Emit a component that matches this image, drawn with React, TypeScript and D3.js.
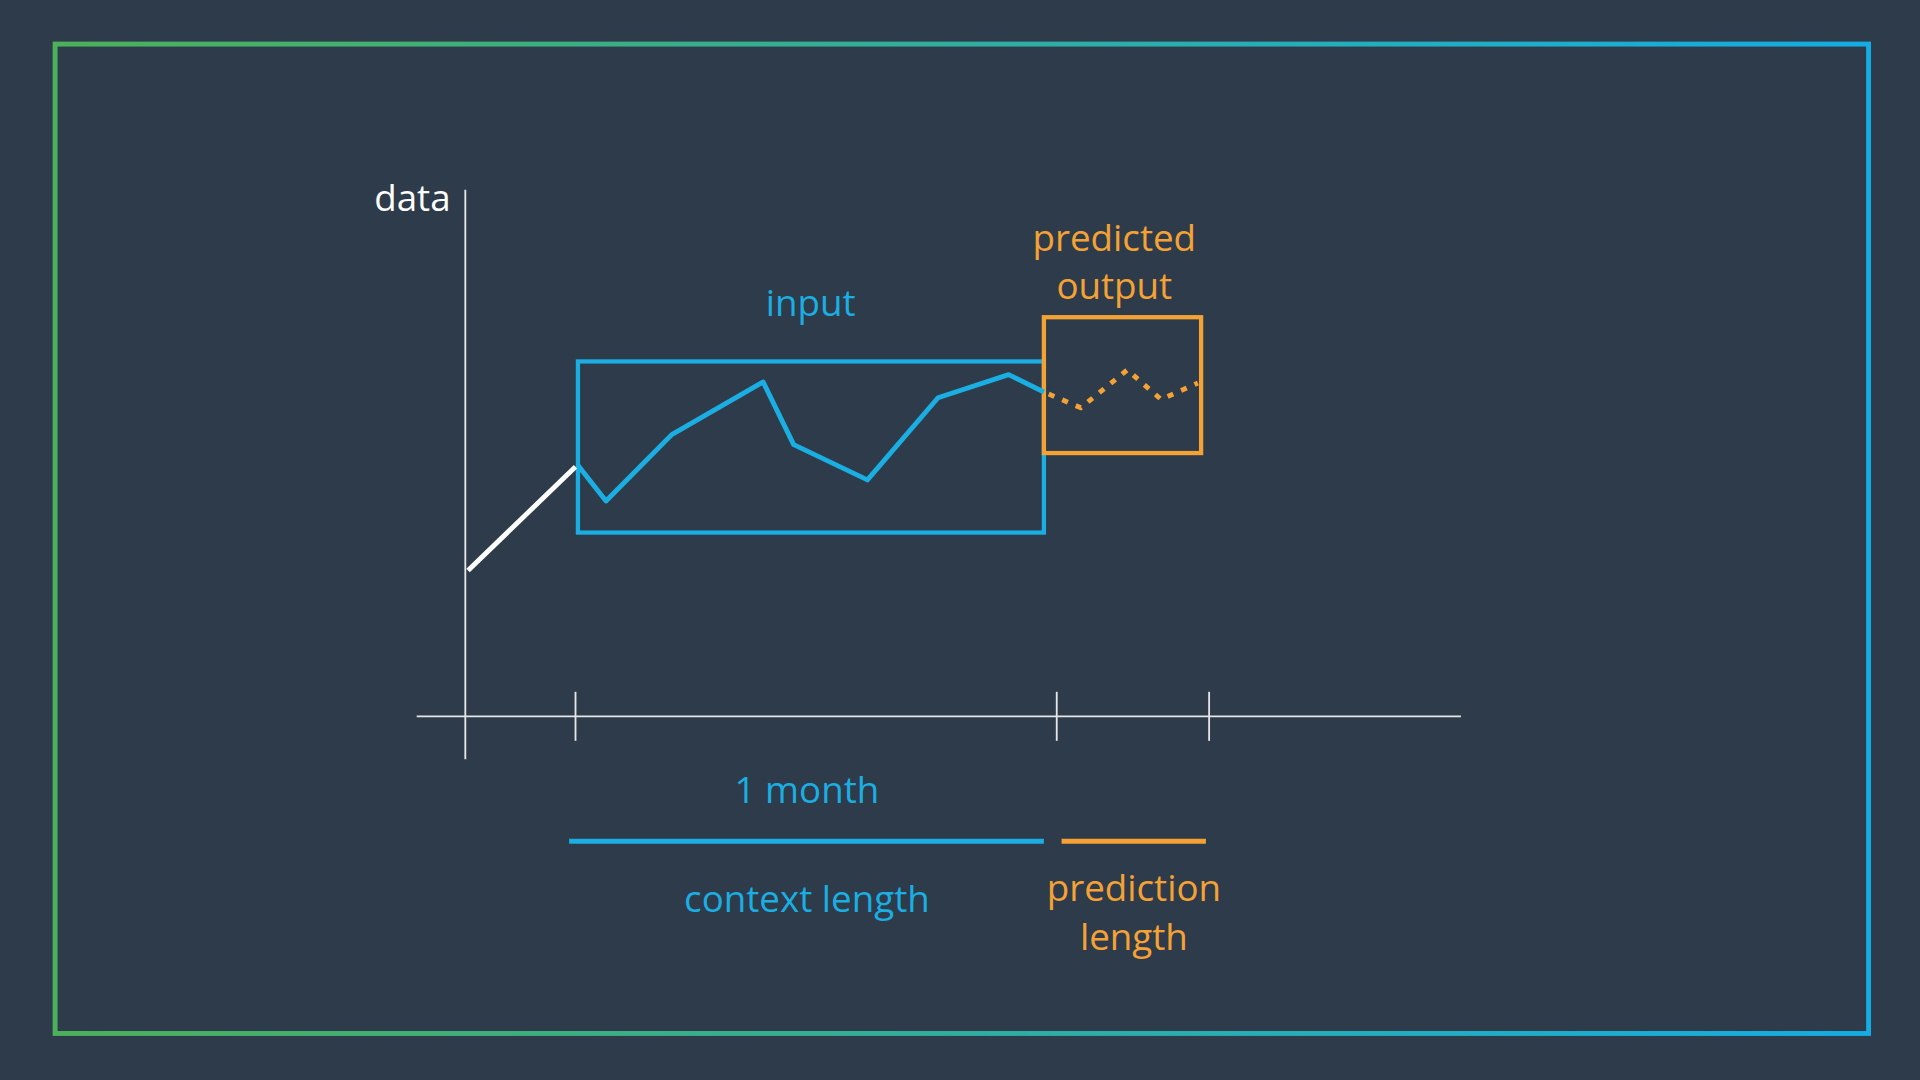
import React from "react";
import * as d3 from "d3";

// time in days (0 = start of context window), value in arbitrary units
const historyPts: [number, number][] = [[-6.7, 27.7], [0, 47.4]];
const inputPts: [number, number][] = [
  [0.15, 47.7], [1.9, 40.9], [6.0, 53.5], [11.7, 63.5], [13.6, 51.6],
  [18.2, 44.9], [22.6, 60.5], [27.0, 64.9], [29.2, 61.6],
];
const predictedPts: [number, number][] = [
  [29.5, 61.2], [31.5, 58.6], [34.4, 65.8], [36.5, 60.2], [38.8, 63.3],
];
const xTicks = [0, 30, 39.5];
const inputBox = { t0: 0.15, t1: 29.2, v0: 34.9, v1: 67.4 };
const outputBox = { t0: 29.2, t1: 39.0, v0: 50, v1: 75.8 };
const contextSpan: [number, number] = [-0.4, 29.2];
const predictionSpan: [number, number] = [30.3, 39.3];

const BLUE = "#1aaee2";
const ORANGE = "#f5a235";
const BG = "#2e3b4a";
const FONT = "'Open Sans', 'Noto Sans', sans-serif";

const App: React.FC = () => {
  const x = d3.scaleLinear().domain([0, 30]).range([470, 863]);
  const y = d3.scaleLinear().domain([0, 100]).range([585, 155]);
  const line = d3.line<[number, number]>().x((d) => x(d[0])).y((d) => y(d[1]));
  const axisY = y(0);
  const yAxisX = x(-6.87);

  return (
    <svg
      width={1920}
      height={1080}
      viewBox="0 0 1568 882"
      style={{ position: "absolute", left: 0, top: 0 }}
    >
      <defs>
        <linearGradient id="border" x1="0" x2="1" y1="0" y2="0">
          <stop offset="0%" stopColor="#4cb15a" />
          <stop offset="100%" stopColor="#14ace3" />
        </linearGradient>
      </defs>
      <rect width={1568} height={882} fill={BG} />
      <rect x={45} y={36} width={1481} height={808} fill="none" stroke="url(#border)" strokeWidth={4} />

      {/* axes */}
      <line x1={yAxisX} x2={yAxisX} y1={155} y2={620} stroke="#e6e6e6" strokeWidth={1.5} />
      <line x1={x(-9.9)} x2={x(55.2)} y1={axisY} y2={axisY} stroke="#e6e6e6" strokeWidth={1.5} />
      {xTicks.map((t) => (
        <line key={t} x1={x(t)} x2={x(t)} y1={axisY - 20} y2={axisY + 20} stroke="#e6e6e6" strokeWidth={1.5} />
      ))}
      <text x={368} y={172} textAnchor="end" fill="#fff" fontSize={30} fontFamily={FONT}>data</text>

      {/* boxes */}
      <rect x={x(inputBox.t0)} y={y(inputBox.v1)} width={x(inputBox.t1) - x(inputBox.t0)}
        height={y(inputBox.v0) - y(inputBox.v1)} fill="none" stroke={BLUE} strokeWidth={3.5} />
      <rect x={x(outputBox.t0)} y={y(outputBox.v1)} width={x(outputBox.t1) - x(outputBox.t0)}
        height={y(outputBox.v0) - y(outputBox.v1)} fill="none" stroke={ORANGE} strokeWidth={3.5} />

      {/* series */}
      <path d={line(historyPts) ?? ""} fill="none" stroke="#fff" strokeWidth={4} />
      <path d={line(inputPts) ?? ""} fill="none" stroke={BLUE} strokeWidth={4} strokeLinejoin="round" />
      <path d={line(predictedPts) ?? ""} fill="none" stroke={ORANGE} strokeWidth={4} strokeDasharray="5 7" />

      {/* labels */}
      <text x={662} y={258} textAnchor="middle" fill={BLUE} fontSize={30} fontFamily={FONT}>input</text>
      <text x={910} y={205} textAnchor="middle" fill={ORANGE} fontSize={30} fontFamily={FONT}>predicted</text>
      <text x={910} y={244} textAnchor="middle" fill={ORANGE} fontSize={30} fontFamily={FONT}>output</text>

      <text x={659} y={656} textAnchor="middle" fill={BLUE} fontSize={30} fontFamily={FONT}>1 month</text>
      <line x1={x(contextSpan[0])} x2={x(contextSpan[1])} y1={687} y2={687} stroke={BLUE} strokeWidth={4} />
      <line x1={x(predictionSpan[0])} x2={x(predictionSpan[1])} y1={687} y2={687} stroke={ORANGE} strokeWidth={4} />
      <text x={659} y={745} textAnchor="middle" fill={BLUE} fontSize={30} fontFamily={FONT}>context length</text>
      <text x={926} y={736} textAnchor="middle" fill={ORANGE} fontSize={30} fontFamily={FONT}>prediction</text>
      <text x={926} y={776} textAnchor="middle" fill={ORANGE} fontSize={30} fontFamily={FONT}>length</text>
    </svg>
  );
};

export default App;
